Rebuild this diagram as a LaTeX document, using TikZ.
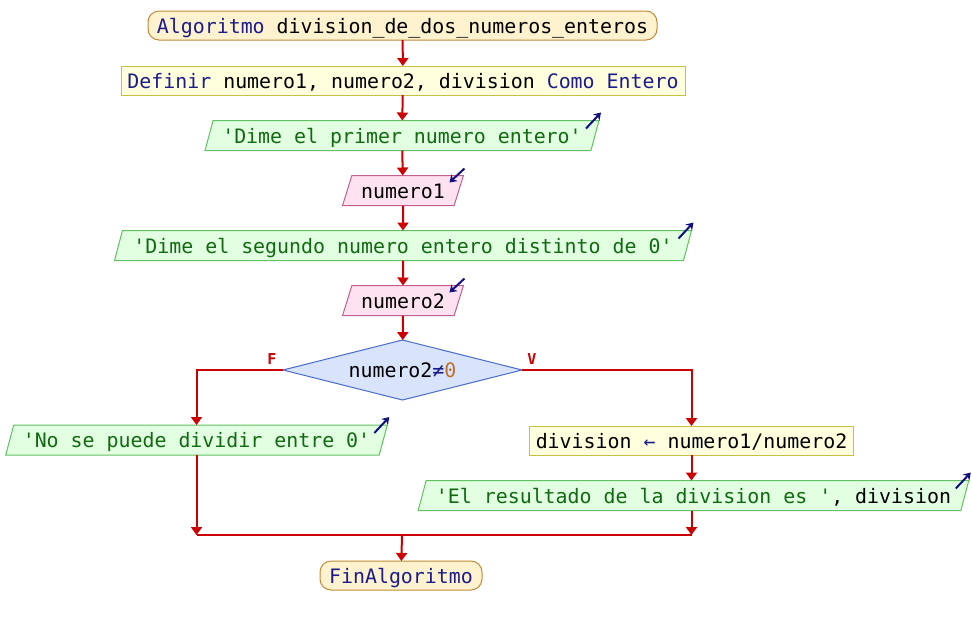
\documentclass[tikz,border=0pt]{standalone}
\usepackage{fontspec}
\setmonofont{DejaVu Sans Mono}
\usetikzlibrary{shapes.geometric,arrows.meta,calc}
\definecolor{kw}{HTML}{1C1C8C}
\definecolor{strc}{HTML}{106A10}
\definecolor{numc}{HTML}{C07028}
\definecolor{termf}{HTML}{FFF2CF}
\definecolor{termb}{HTML}{C08A38}
\definecolor{procf}{HTML}{FFFFDD}
\definecolor{procb}{HTML}{C8C040}
\definecolor{outf}{HTML}{E2FFE2}
\definecolor{outb}{HTML}{62C062}
\definecolor{inf}{HTML}{FFE2F0}
\definecolor{inb}{HTML}{C06090}
\definecolor{decf}{HTML}{D8E4FC}
\definecolor{decb}{HTML}{4A6AD0}
\definecolor{flow}{HTML}{CC0000}
\definecolor{ioarrow}{HTML}{101080}
\begin{document}
\begin{tikzpicture}[x=1pt,y=-1pt,
  every node/.style={font=\ttfamily\fontsize{19.9}{24}\selectfont, inner sep=0pt, outer sep=0pt},
  txt/.style={text height=18pt, text depth=3pt},
  terminal/.style={txt, draw=termb, fill=termf, rounded corners=11pt, line width=1pt, minimum height=29pt},
  procbox/.style={txt, draw=procb, fill=procf, line width=1pt, minimum height=29pt},
  para/.style={txt, trapezium, trapezium left angle=70, trapezium right angle=110, trapezium stretches=true, line width=1pt, minimum height=30pt},
  outbox/.style={para, draw=outb, fill=outf},
  inbox/.style={para, draw=inb, fill=inf},
  decision/.style={txt, diamond, draw=decb, fill=decf, line width=1pt, aspect=4, minimum width=239pt, minimum height=60pt},
  flowline/.style={draw=flow, line width=2pt},
  flowarrow/.style={flowline, -{Triangle[width=11pt,length=8pt]}},
  ioarr/.style={draw=ioarrow, line width=2pt, -{Stealth[width=9pt,length=7pt]}},
  branch/.style={font=\ttfamily\bfseries\fontsize{15}{15}\selectfont, text=flow}
]
\path[use as bounding box] (0,0) rectangle (972,625);

\node[terminal, minimum width=509pt] (start) at (402.5,25.5) {\textcolor{kw}{Algoritmo} division\_de\_dos\_numeros\_enteros};
\node[procbox, minimum width=564pt] (def) at (403,80.5) {\textcolor{kw}{Definir} numero1, numero2, division \textcolor{kw}{Como Entero}};
\node[outbox, minimum width=396pt] (o1) at (402,135.5) {\textcolor{strc}{'Dime el primer numero entero'}};
\node[inbox, minimum width=122pt] (i1) at (403,190.5) {numero1};
\node[outbox, minimum width=578pt] (o2) at (403,245.5) {\textcolor{strc}{'Dime el segundo numero entero distinto de 0'}};
\node[inbox, minimum width=122pt] (i2) at (403,300.5) {numero2};
\node[decision] (d) at (402.5,370) {numero2\textcolor{kw}{≠}\textcolor{numc}{0}};
\node[outbox, minimum width=383pt] (lo) at (196.5,440) {\textcolor{strc}{'No se puede dividir entre 0'}};
\node[procbox, minimum width=324pt] (asg) at (691.5,440.5) {division \textcolor{kw}{←} numero1/numero2};
\node[outbox, minimum width=553pt] (o3) at (693.5,495.5) {\textcolor{strc}{'El resultado de la division es '}, division};
\node[terminal, minimum width=162pt] (fin) at (401,575.5) {\textcolor{kw}{FinAlgoritmo}};
\coordinate (m) at (402,535);

\node[branch] (lf) at (272,359) {F};
\node[branch] (lv) at (532,359) {V};

% io corner arrows
\draw[ioarr] ($(o1.top right corner)+(-13,8)$) -- ($(o1.top right corner)+(2,-8)$);
\draw[ioarr] ($(o2.top right corner)+(-13,8)$) -- ($(o2.top right corner)+(2,-8)$);
\draw[ioarr] ($(lo.top right corner)+(-13,8)$) -- ($(lo.top right corner)+(2,-8)$);
\draw[ioarr] ($(o3.top right corner)+(-13,8)$) -- ($(o3.top right corner)+(2,-8)$);
\draw[ioarr] ($(i1.top right corner)+(1,-7)$) -- ($(i1.top right corner)+(-14,7)$);
\draw[ioarr] ($(i2.top right corner)+(1,-7)$) -- ($(i2.top right corner)+(-14,7)$);

% flow
\draw[flowarrow] (start) -- (def);
\draw[flowarrow] (def) -- (o1);
\draw[flowarrow] (o1) -- (i1);
\draw[flowarrow] (i1) -- (o2);
\draw[flowarrow] (o2) -- (i2);
\draw[flowarrow] (i2) -- (d);
\draw[flowarrow] (d.west) -| (lo.north);
\draw[flowarrow] (d.east) -| (asg.north);
\draw[flowarrow] (asg) -- (asg |- o3.north);
\draw[flowarrow] (lo.south) -- (lo.south |- m);
\draw[flowarrow] (asg |- o3.south) -- (asg |- m);
\draw[flowline] (lo.south |- m) -- (asg |- m);
\draw[flowarrow] (m) -- (fin);
\end{tikzpicture}
\end{document}
